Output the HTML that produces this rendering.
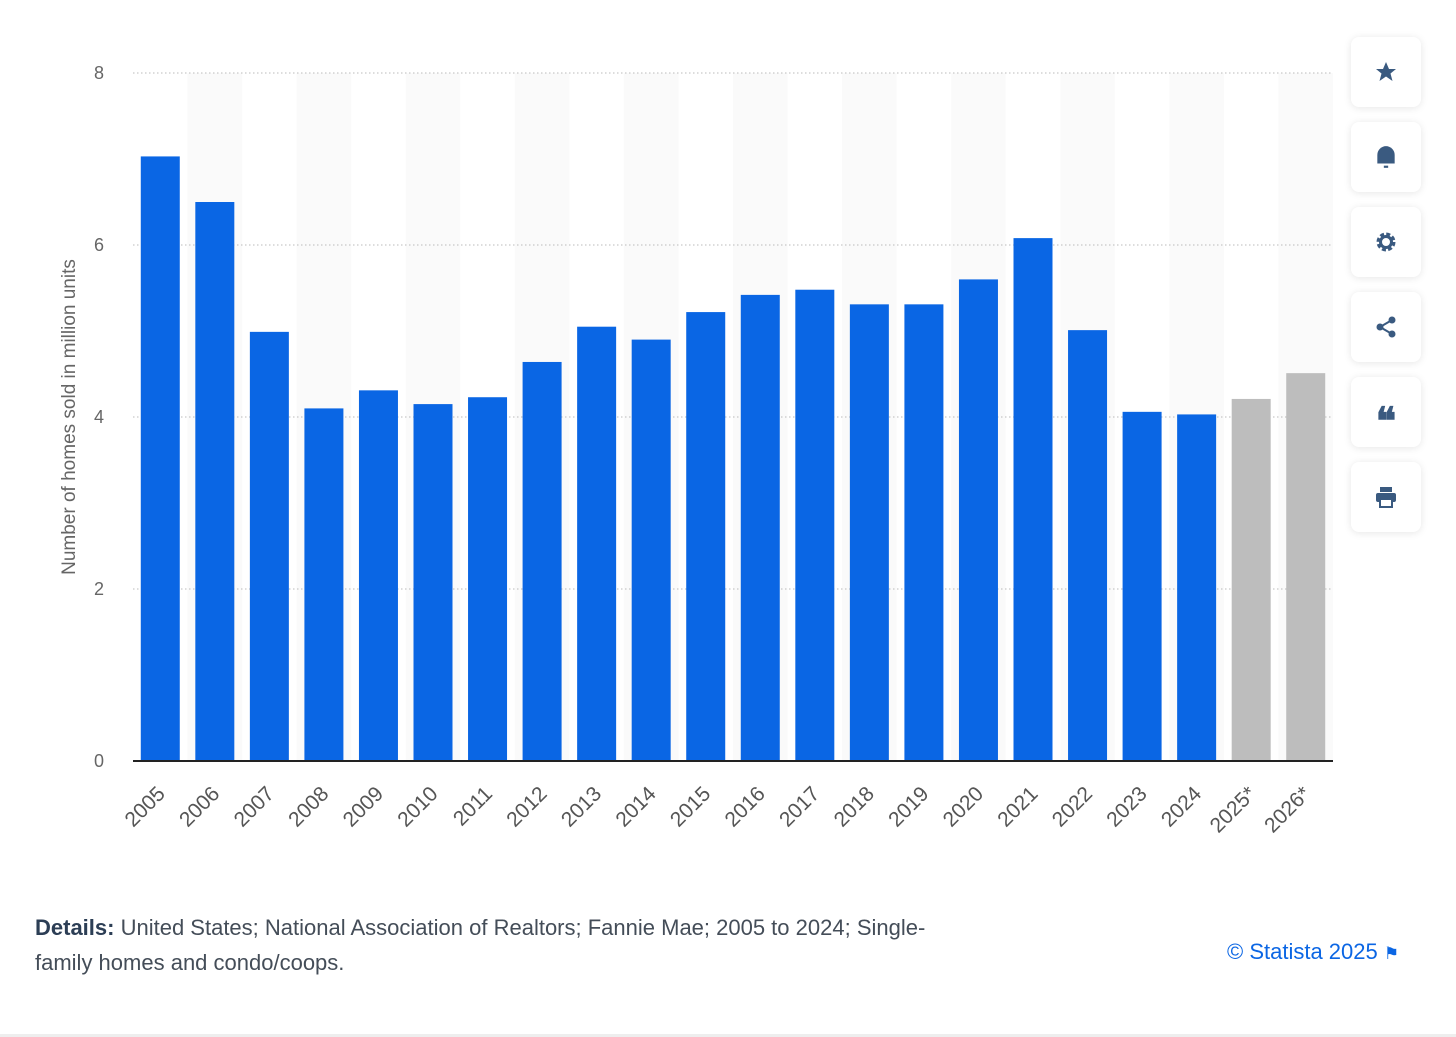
<!DOCTYPE html>
<html><head><meta charset="utf-8"><style>
body{margin:0;width:1456px;height:1037px;background:#fff;font-family:"Liberation Sans",sans-serif;overflow:hidden;position:relative}
.btn{position:absolute;left:1351px;width:70px;height:70px;background:#fff;border-radius:8px;box-shadow:0 1px 8px rgba(0,0,0,0.10);display:flex;align-items:center;justify-content:center}
</style></head><body>
<svg id="chart" width="1340" height="880" style="position:absolute;left:0;top:0"></svg>
<div class="btn" style="top:37px"><svg width="24" height="24" viewBox="0 0 24 24"><path d="M12 2l3 7h7l-5.5 4.5 2 7.5L12 16.5 5.5 21l2-7.5L2 9h7z" fill="#3a5a80"/></svg></div>
<div class="btn" style="top:122px"><svg width="24" height="26" viewBox="0 0 22 24"><path d="M3 18V10a8 8 0 0 1 16 0v8z" fill="#3a5a80"/><rect x="9" y="20" width="4" height="2" fill="#3a5a80"/></svg></div>
<div class="btn" style="top:207px"><svg width="24" height="24" viewBox="0 0 24 24"><circle cx="12" cy="12" r="7" fill="none" stroke="#3a5a80" stroke-width="5" stroke-dasharray="3.5 2"/><circle cx="12" cy="12" r="5.5" fill="none" stroke="#3a5a80" stroke-width="3"/></svg></div>
<div class="btn" style="top:292px"><svg width="24" height="24" viewBox="0 0 24 24"><circle cx="18" cy="5" r="3.5" fill="#3a5a80"/><circle cx="6" cy="12" r="3.5" fill="#3a5a80"/><circle cx="18" cy="19" r="3.5" fill="#3a5a80"/><path d="M18 5L6 12l12 7" stroke="#3a5a80" stroke-width="2" fill="none"/></svg></div>
<div class="btn" style="top:377px"><span style="font-size:38px;color:#3a5a80;font-weight:bold;margin-top:18px">❝</span></div>
<div class="btn" style="top:462px"><svg width="24" height="24" viewBox="0 0 24 24"><rect x="6" y="2" width="12" height="5" fill="#3a5a80"/><rect x="2" y="8" width="20" height="9" rx="2" fill="#3a5a80"/><rect x="6" y="14" width="12" height="8" fill="#fff" stroke="#3a5a80" stroke-width="2"/></svg></div>
<div style="position:absolute;left:35px;top:910px;width:940px;font-size:22px;line-height:35px;color:#444d58"><b style="color:#2c3e55">Details:</b> United States; National Association of Realtors; Fannie Mae; 2005 to 2024; Single-family homes and condo/coops.</div>
<div style="position:absolute;left:1227px;top:939px;font-size:22px;color:#0b66e4">© Statista 2025 <span style="font-size:17px">⚑</span></div>
<div style="position:absolute;left:0;top:1034px;width:1456px;height:3px;background:#eee"></div>
<script>
const categories=["2005","2006","2007","2008","2009","2010","2011","2012","2013","2014","2015","2016","2017","2018","2019","2020","2021","2022","2023","2024","2025*","2026*"];
const values=[7.03,6.5,4.99,4.1,4.31,4.15,4.23,4.64,5.05,4.9,5.22,5.42,5.48,5.31,5.31,5.6,6.08,5.01,4.06,4.03,4.21,4.51];
const forecast=[false,false,false,false,false,false,false,false,false,false,false,false,false,false,false,false,false,false,false,false,true,true];
const yTicks=[0,2,4,6,8];
const svg=document.getElementById('chart');const NS='http://www.w3.org/2000/svg';
const x0=133,x1=1333,y0=761,y1=73,ymax=8;
const band=(x1-x0)/categories.length;
const y=v=>y0-(v/ymax)*(y0-y1);
const xs=i=>x0+i*band;
function el(t,a){const e=document.createElementNS(NS,t);for(const k in a)e.setAttribute(k,a[k]);svg.appendChild(e);return e;}
categories.forEach((c,i)=>{if(i%2==1){const r=el('rect',{x:xs(i),y:y1,width:band,height:y0-y1,fill:'#fafafa'});}});
yTicks.forEach(t=>{if(t>0){const l=el('line',{x1:x0,x2:x1,y1:y(t),y2:y(t),stroke:'#bbb','stroke-dasharray':'1.5 2.5'});}
const tx=el('text',{x:104,y:y(t)+6,'text-anchor':'end','font-size':18,fill:'#666'});tx.textContent=t;});
const bw=band*0.715;
categories.forEach((c,i)=>{const b=el('rect',{x:xs(i)+(band-bw)/2,y:y(values[i]),width:bw,height:y0-y(values[i]),fill:forecast[i]?'#bdbdbd':'#0a66e4'});

const cx=xs(i)+band/2+6;const ty=795;const t=el('text',{x:cx,y:ty,'text-anchor':'end','font-size':21,fill:'#555',transform:`rotate(-45 ${cx} ${ty})`});t.textContent=c;
});
const ax=el('line',{x1:x0,x2:x1,y1:y0,y2:y0,stroke:'#222','stroke-width':2});
const yt=el('text',{x:75,y:417,'text-anchor':'middle','font-size':19,fill:'#666',transform:'rotate(-90 75 417)'});yt.textContent='Number of homes sold in million units';

</script>
</body></html>
